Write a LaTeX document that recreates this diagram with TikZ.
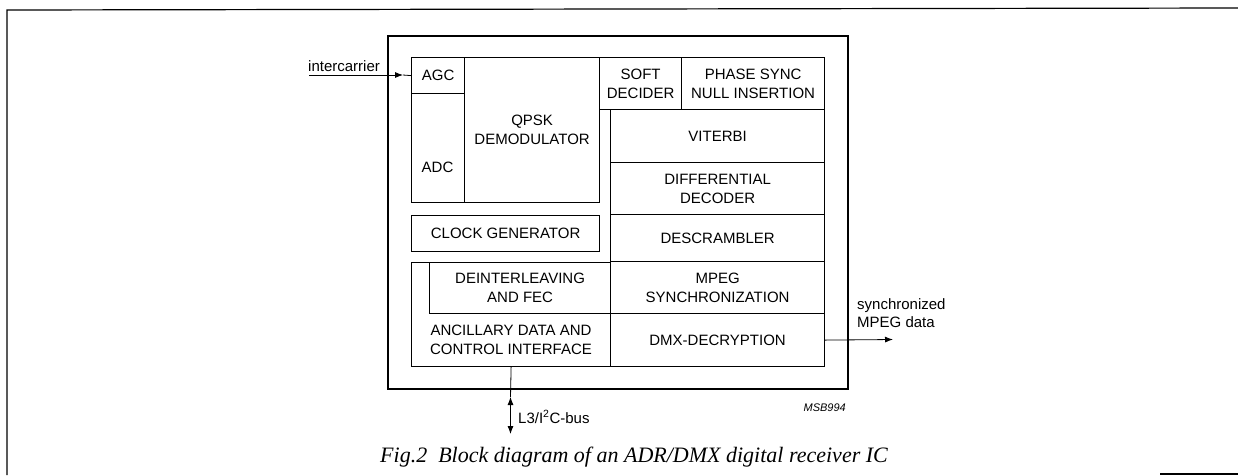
\documentclass[tikz,border=0pt]{standalone}
\usepackage{fontspec}
\setmainfont{Liberation Sans}
\newfontfamily\capfont{Liberation Serif}
\usepackage[rgb]{xcolor}
\usepackage{tikz}
\usetikzlibrary{arrows.meta}

\begin{document}
\begin{tikzpicture}[x=1pt, y=-1pt,
  >={Latex[length=8pt,width=6pt]},
  blk/.style={draw, line width=1.2pt, anchor=north west, inner sep=0pt,
    align=center, font=\fontsize{15}{19}\selectfont},
  lbl/.style={inner sep=0pt, font=\fontsize{15}{18}\selectfont}]

\useasboundingbox (0,0) rectangle (1238,475);

% page frame
\draw[line width=1.2pt] (7,475) -- (7,10) -- (1238,8);
\draw[line width=1.2pt] (1160,474) -- (1238,474);

%% the chip
\node[blk, line width=1.7pt, minimum width=460, minimum height=353] (chip) at (387,35) {};

%% front end
\path
(411,57) node[blk, minimum width=53, minimum height=36](agc) {AGC}
(411,93) node[blk, minimum width=53, minimum height=109](adc) {}
(464,57) node[blk, minimum width=135, minimum height=145](qpsk) {QPSK\\DEMODULATOR}
(599,57) node[blk, minimum width=82, minimum height=52](soft) {SOFT\\DECIDER}
(681,57) node[blk, minimum width=143, minimum height=52](phase) {PHASE SYNC\\NULL INSERTION};
\node[lbl] (adctxt) at (437.5,167) {ADC};

%% right column
\path
(610,109) node[blk, minimum width=214, minimum height=53](viterbi) {VITERBI}
(610,162) node[blk, minimum width=214, minimum height=52](diff) {DIFFERENTIAL\\DECODER}
(610,214) node[blk, minimum width=214, minimum height=47](descr) {DESCRAMBLER}
(610,261) node[blk, minimum width=214, minimum height=52](mpeg) {MPEG\\SYNCHRONIZATION}
(610,313) node[blk, minimum width=214, minimum height=53](dmx) {DMX-DECRYPTION};

%% left column
\path
(411,215) node[blk, minimum width=188, minimum height=36](clock) {CLOCK GENERATOR}
(411,262) node[blk, minimum width=199, minimum height=104](anc) {}
(429,262) node[blk, minimum width=181, minimum height=51](deint) {DEINTERLEAVING\\AND FEC};
\node[lbl, align=center, font=\fontsize{15}{19}\selectfont] (anctxt) at (511,339.5)
{ANCILLARY DATA AND\\CONTROL INTERFACE};

%% input
\coordinate (incoming) at (309,75);
\coordinate (intip) at (403,75);
\node[lbl, anchor=south west] (intxt) at (308,72) {intercarrier};
\draw[->, line width=0.8pt] (incoming) -- (intip);
\draw[line width=0.8pt] (intip) -- (agc.west);

%% output
\coordinate (outtip) at (893,339.5);
\draw[->, line width=0.8pt] (dmx.east) -- (outtip);
\node[lbl, anchor=north west, align=left] (outtxt) at (857,298) {synchronized\\MPEG data};

%% bus
\coordinate (busup) at (510.5,397);
\coordinate (busdn) at (510.5,434);
\draw[line width=0.8pt] (anc.south) -- (busup);
\draw[<->, line width=0.8pt] (busup) -- (busdn);
\node[lbl, anchor=west] (bustxt) at (518,417) {L3/I\textsuperscript{2}C-bus};

\node[inner sep=0pt, anchor=east, font=\fontsize{11}{13}\selectfont\itshape] (code) at (846,408) {MSB994};

%% caption
\node[inner sep=0pt, anchor=base, font=\capfont\fontsize{22}{26}\selectfont\itshape] (caption) at (634,462)
{Fig.2\enspace Block diagram of an ADR/DMX digital receiver IC};

\end{tikzpicture}
\end{document}
